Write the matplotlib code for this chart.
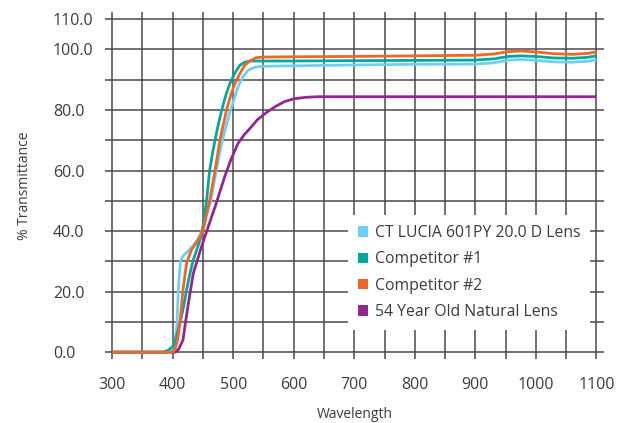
#!usr/bin/python
"""
Lens transmittance curves: CT LUCIA vs competitors vs natural lens
"""
import matplotlib.pyplot as plt
from matplotlib.patches import Patch
from matplotlib.ticker import FixedLocator, FuncFormatter

plt.rcParams['font.family'] = ['Open Sans', 'DejaVu Sans']

# DATA (wavelength nm, % transmittance)
LUCIA_X = [300, 395, 400, 404, 407, 409, 411, 413, 417, 425, 435, 442, 448, 455, 463,
           472, 482, 494, 508, 516, 525, 535, 545, 560, 600, 700, 800, 900, 930, 955,
           975, 1000, 1030, 1060, 1085, 1100]
LUCIA_Y = [0, 0, 1.5, 4, 9, 19, 26, 30, 31.8, 33.3, 35.5, 37.5, 40, 45, 50,
           60, 70, 79, 87.7, 91, 93.2, 94.1, 94.4, 94.5, 94.6, 94.9, 95.1, 95.2, 95.6, 96.5,
           96.7, 96.4, 95.9, 95.8, 96.1, 96.6]

COMP1_X = [300, 385, 392, 400, 406, 412, 418, 423, 428, 434, 440, 445, 449, 456, 461,
           467, 474, 481, 488, 495, 503, 511, 519, 528, 540, 600, 700, 800, 900, 930,
           955, 975, 1000, 1030, 1060, 1085, 1100]
COMP1_Y = [0, 0, 0.6, 1.8, 5, 9.6, 15, 20.6, 25.5, 30.5, 34, 37, 40, 50, 60,
           67, 74, 80, 85, 89, 92.3, 94.8, 95.8, 96.2, 96.2, 96.2, 96.3, 96.4, 96.5, 96.9,
           97.7, 97.9, 97.7, 97.2, 97.1, 97.4, 97.9]

COMP2_X = [300, 400, 404, 408, 412, 417, 423, 431, 442, 450, 461, 470, 478, 489, 496,
           503, 511, 519, 528, 538, 550, 600, 700, 800, 900, 930, 955, 975, 1000, 1030,
           1060, 1085, 1100]
COMP2_Y = [0, 0, 1, 4, 9.6, 20.6, 29.4, 33.8, 37, 40, 50, 60, 70, 80, 85,
           88.8, 92, 94.8, 96.3, 97.3, 97.5, 97.6, 97.7, 97.9, 98.1, 98.5, 99.3, 99.5, 99.2, 98.6,
           98.4, 98.7, 99.2]

NATURAL_X = [300, 404, 410, 417, 425, 434, 446, 452, 458, 464, 470, 478, 486, 496, 508,
             518, 528, 540, 555, 570, 585, 600, 620, 640, 700, 800, 900, 1000, 1100]
NATURAL_Y = [0, 0, 1, 4, 15, 26, 33.8, 37.5, 41, 44.5, 48, 53, 58, 63.5, 69,
             71.8, 74, 76.8, 79.2, 81.2, 82.8, 83.7, 84.2, 84.4, 84.4, 84.4, 84.4, 84.4, 84.4]

LABELS = ['CT LUCIA 601PY 20.0 D Lens', 'Competitor #1', 'Competitor #2',
          '54 Year Old Natural Lens']
COLOURS = ['#6dcff6', '#00a99d', '#f26522', '#92278f']

X_TICKS = list(range(300, 1101, 50))
X_LABELED = list(range(300, 1101, 100))
Y_TICKS = list(range(0, 111, 10))
Y_LABELED = [0, 20, 40, 60, 80, 100, 110]

TEXT_COL = '#3c3c3c'


def main():
    fig = plt.figure(figsize=(6.24, 4.23), dpi=100)
    ax = fig.add_axes([0.168, 0.151, 0.8, 0.82])

    series = [(LUCIA_X, LUCIA_Y), (COMP1_X, COMP1_Y), (COMP2_X, COMP2_Y),
              (NATURAL_X, NATURAL_Y)]
    # draw natural lens first, LUCIA on top of the low shoulder
    order = [3, 0, 1, 2]
    for idx in order:
        xs, ys = series[idx]
        ax.plot(xs, ys, color=COLOURS[idx], lw=2.0, solid_joinstyle='round',
                solid_capstyle='butt', zorder=3)

    ax.set_xlim(287.9, 1112.7)
    ax.set_ylim(-2.3, 112.3)

    ax.xaxis.set_major_locator(FixedLocator(X_TICKS))
    ax.yaxis.set_major_locator(FixedLocator(Y_TICKS))
    ax.xaxis.set_major_formatter(FuncFormatter(
        lambda v, p: f'{int(round(v))}' if int(round(v)) in X_LABELED else ''))
    ax.yaxis.set_major_formatter(FuncFormatter(
        lambda v, p: f'{v:.1f}' if int(round(v)) in Y_LABELED else ''))
    ax.tick_params(axis='both', length=0, labelsize=11.5, colors=TEXT_COL)
    ax.tick_params(axis='x', pad=13)
    # y labels are left aligned, starting at a fixed column
    ax.tick_params(axis='y', pad=37.4)
    for lbl in ax.get_yticklabels():
        lbl.set_horizontalalignment('left')

    for side in ax.spines.values():
        side.set_visible(False)
    ax.grid(True, color='#4a4a4a', lw=1.1, zorder=1)
    ax.set_axisbelow(True)

    ax.set_xlabel('Wavelength', fontsize=10, color=TEXT_COL, labelpad=10)
    ax.set_ylabel('% Transmittance', fontsize=10, color=TEXT_COL)
    ax.yaxis.set_label_coords(-0.146, 0.5)

    handles = [Patch(facecolor=c, edgecolor='none') for c in COLOURS]
    leg = ax.legend(handles, LABELS, loc='lower left', bbox_to_anchor=(0.487, 0.084),
                    frameon=True, fancybox=False, fontsize=11.3, handlelength=0.65,
                    handleheight=0.65, handletextpad=0.4, labelspacing=0.65,
                    borderpad=0.65, borderaxespad=0)
    leg.get_frame().set_facecolor('white')
    leg.get_frame().set_edgecolor('none')
    leg.get_frame().set_alpha(1.0)
    leg.set_zorder(5)
    for txt in leg.get_texts():
        txt.set_color(TEXT_COL)

    fig.savefig('out.png', dpi=100)


if __name__ == '__main__':
    main()
